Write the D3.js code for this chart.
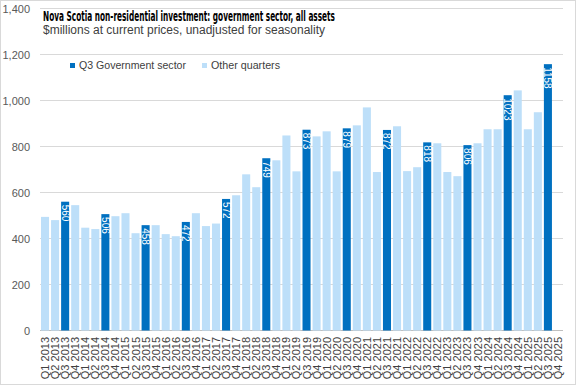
<!DOCTYPE html>
<html><head><meta charset="utf-8">
<script src="https://cdn.jsdelivr.net/npm/d3@7"></script>
<style>body{margin:0;background:#fff;} svg{display:block;font-family:"Liberation Sans",Arial,sans-serif;}</style>
</head><body><svg id="c" width="576" height="385"></svg>
<script>
const quarters = [];
for (let y = 2013; y <= 2025; y++) for (let q = 1; q <= 4; q++) quarters.push("Q" + q + " " + y);
const values = [494,480,560,545, 447,441,506,497, 510,423,458,458, 419,410,472,510,
  454,465,572,588, 679,623,749,740, 848,692,873,844, 866,692,879,892,
  970,689,872,888, 693,710,818,814, 689,671,806,814, 875,875,1023,1044,
  875,949,1158,null];
const yTicks = [0,200,400,600,800,1000,1200,1400];
const titleText = "Nova Scotia non-residential  investment: government sector, all assets";
const subtitleText = "$millions at current prices, unadjusted for seasonality";
const legendLabels = ["Q3 Government sector", "Other quarters"];

const dark = "#0070C0", light = "#BDDFF9";
const svg = d3.select("#c");
svg.append("rect").attr("x",0.5).attr("y",0.5).attr("width",575).attr("height",384)
  .attr("fill","#fff").attr("stroke","#d9d9d9");

const x = d3.scaleBand().domain(quarters).range([40, 563]).paddingInner(0.2).paddingOuter(0.1);
const y = d3.scaleLinear().domain([0,1400]).range([330.5, 8.5]);

svg.append("g").selectAll("line").data(yTicks).join("line")
  .attr("x1",40).attr("x2",563).attr("y1",d=>y(d)).attr("y2",d=>y(d))
  .attr("stroke",d=>d===0?"#bfbfbf":"#d9d9d9").attr("stroke-width",1);

svg.append("g").selectAll("text").data(yTicks).join("text")
  .attr("x",30).attr("y",d=>y(d)+4).attr("text-anchor","end")
  .attr("font-size",11).attr("fill","#595959").text(d3.format(","));

const data = quarters.map((q,i)=>({q, v: values[i], isQ3: q.startsWith("Q3")})).filter(d=>d.v!=null);

svg.append("g").selectAll("rect").data(data).join("rect")
  .attr("x",d=>x(d.q)).attr("width",x.bandwidth())
  .attr("y",d=>y(d.v)).attr("height",d=>y(0)-y(d.v))
  .attr("fill",d=>d.isQ3?dark:light);

svg.append("g").selectAll("text").data(data.filter(d=>d.isQ3)).join("text")
  .attr("transform",d=>`translate(${x(d.q)+x.bandwidth()/2-3.5},${y(d.v)+3}) rotate(90)`)
  .attr("font-size",10).attr("fill","#fff").text(d=>d.v);

svg.append("g").selectAll("text").data(quarters).join("text")
  .attr("transform",d=>`translate(${x(d)+x.bandwidth()/2+4},337) rotate(-90)`)
  .attr("text-anchor","end").attr("font-size",11).attr("fill","#404040").text(d=>d);

svg.append("rect").attr("x",40).attr("y",9).attr("width",300).attr("height",30).attr("fill","#fff");
svg.append("text").attr("x",43).attr("y",21).attr("font-size",13.5).attr("font-weight","bold")
  .attr("font-family","'Liberation Sans Narrow','DejaVu Sans Condensed','Liberation Sans',sans-serif")
  .attr("fill","#000").attr("textLength",292).attr("lengthAdjust","spacingAndGlyphs").text(titleText);
svg.append("text").attr("x",43).attr("y",34).attr("font-size",12)
  .attr("font-family","'Liberation Sans Narrow','Liberation Sans',sans-serif")
  .attr("fill","#404040").attr("textLength",282).attr("lengthAdjust","spacingAndGlyphs").text(subtitleText);

const lg = svg.append("g");
[[70,dark,legendLabels[0],107],[202,light,legendLabels[1],69]].forEach(([lx,c,t,w])=>{
  lg.append("rect").attr("x",lx).attr("y",63).attr("width",5).attr("height",5).attr("fill",c);
  lg.append("text").attr("x",lx+9).attr("y",69).attr("font-size",11).attr("fill","#404040")
    .attr("textLength",w).attr("lengthAdjust","spacingAndGlyphs").text(t);
});
</script></body></html>
